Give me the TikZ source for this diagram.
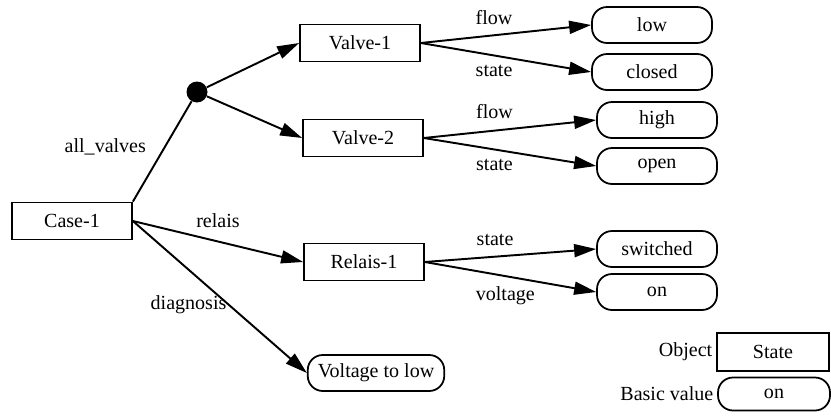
\documentclass[tikz,border=0pt]{standalone}
\usepackage{fontspec}
\setmainfont{Liberation Serif}
\usetikzlibrary{arrows.meta}

\begin{document}
\begin{tikzpicture}[x=0.02cm, y=-0.02cm,
    font=\fontsize{11.4}{13}\selectfont,
    obj/.style={draw, line width=1pt, minimum width=2.4cm, minimum height=0.74cm, inner sep=0pt},
    val/.style={draw, line width=1pt, rounded corners=0.3cm, minimum width=2.4cm, minimum height=0.72cm, inner xsep=0.2cm},
    link/.style={line width=1.1pt, -{Triangle[length=0.44cm, width=0.26cm]}},
    lbl/.style={inner sep=1pt}]
    \useasboundingbox (0,0) rectangle (831,416);

    % Objects
    \node[obj] (case) at (72,221) {Case-1};
    \node[circle, fill, inner sep=0pt, minimum size=0.42cm] (all) at (197,92) {};
    \node[obj] (valve1) at (360,43) {Valve-1};
    \node[obj] (valve2) at (363,138) {Valve-2};
    \node[obj] (relais1) at (364,262) {Relais-1};

    % Basic values
    \node[val] (low) at (652,25) {low};
    \node[val] (closed) at (652,72) {closed};
    \node[val] (high) at (657,120) {high};
    \node[val] (open) at (657,166) {open};
    \node[val] (switched) at (657,249) {switched};
    \node[val] (on) at (657,292) {on};
    \node[val] (diag) at (376,373) {Voltage to low};

    % Case-1 slots
    \draw[line width=1.1pt] (case.north east) -- node[lbl, pos=0.55, left=0.33cm] (allname) {all\_valves} (all);
    \draw[link] (all) -- (valve1.west);
    \draw[link] (all) -- (valve2.west);
    \draw[link] (case.east) -- node[lbl, pos=0.5, above=0.22cm] (relaisname) {relais} (relais1.west);
    \draw[link] (case.east) -- node[lbl, pos=0.553, left=0pt] (diagname) {diagnosis} (diag.west);

    % Valve slots
    \draw[link] (valve1.east) -- node[lbl, pos=0.43, above=0.15cm] (flow1) {flow} (low.west);
    \draw[link] (valve1.east) -- node[lbl, pos=0.43, below=0.15cm] (state1) {state} (closed.west);
    \draw[link] (valve2.east) -- node[lbl, pos=0.41, above=0.18cm] (flow2) {flow} (high.west);
    \draw[link] (valve2.east) -- node[lbl, pos=0.41, below=0.15cm] (state2) {state} (open.west);

    % Relais slots
    \draw[link] (relais1.east) -- node[lbl, pos=0.41, above=0.17cm] (state3) {state} (switched.west);
    \draw[link] (relais1.east) -- node[lbl, pos=0.47, below=0.15cm] (volt) {voltage} (on.west);

    % Legend
    \node[obj, minimum width=2.24cm, minimum height=0.76cm] (keyobj) at (773,352) {State};
    \node[val, minimum width=2.24cm, minimum height=0.66cm] (keyval) at (774,394) {on};
    \node[anchor=east, inner sep=2pt] (keyobjname) at (keyobj.west) {Object};
    \node[anchor=east, inner sep=2pt] (keyvalname) at (keyval.west) {Basic value};
\end{tikzpicture}
\end{document}
